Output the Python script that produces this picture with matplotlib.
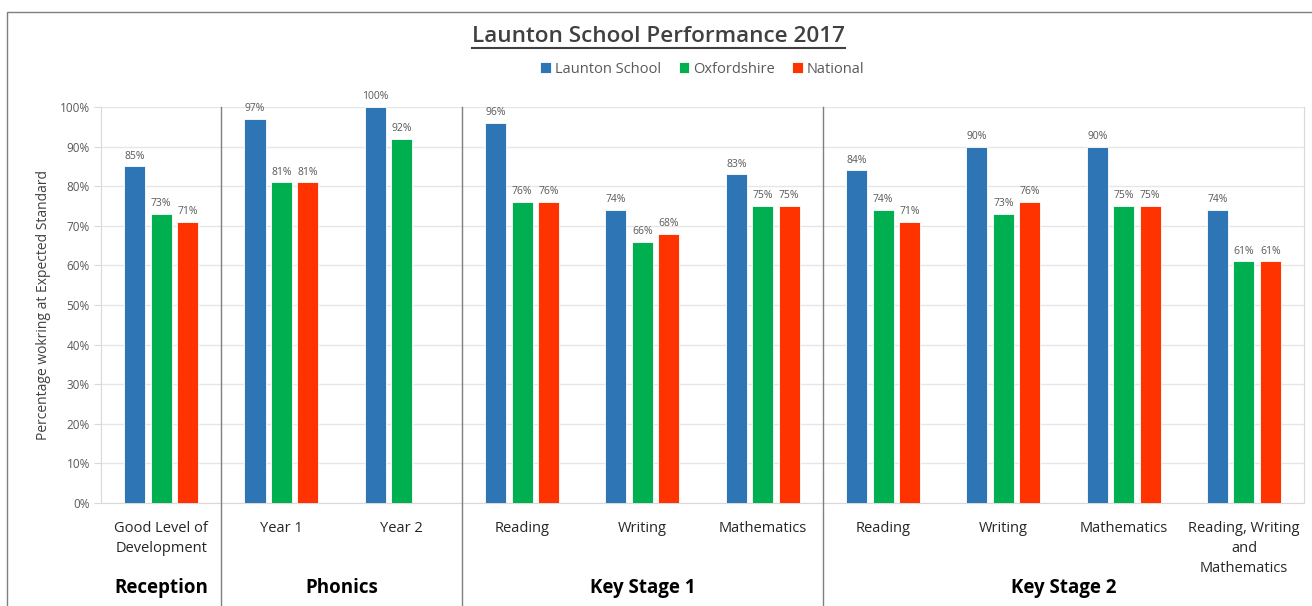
import numpy as np
import matplotlib.pyplot as plt
from matplotlib.lines import Line2D
from matplotlib.patches import Rectangle

categorias = ["Good Level of\nDevelopment", "Year 1", "Year 2", "Reading", "Writing",
              "Mathematics", "Reading", "Writing", "Mathematics",
              "Reading, Writing\nand\nMathematics"]
launton = [85, 97, 100, 96, 74, 83, 84, 90, 90, 74]
oxfordshire = [73, 81, 92, 76, 66, 75, 74, 73, 75, 61]
nacional = [71, 81, None, 76, 68, 75, 71, 76, 75, 61]
series = ["Launton School", "Oxfordshire", "National"]
colores = ["#2E75B6", "#00B050", "#FF3300"]
grupos = ["Reception", "Phonics", "Key Stage 1", "Key Stage 2"]
grupo_inicio = [0, 1, 3, 6]
grupo_fin = [0, 2, 5, 9]

plt.rcParams['font.family'] = ['Open Sans', 'DejaVu Sans']

fig = plt.figure(figsize=(13.12, 6.06), dpi=100)
ax = fig.add_axes([0.077, 0.170, 0.917, 0.6534])

x = np.arange(len(categorias))
ancho = 0.175
paso = 0.22
datos = [launton, oxfordshire, nacional]
for j, (vals, col, nom) in enumerate(zip(datos, colores, series)):
    xs = [x[i] + (j - 1) * paso for i in range(len(vals)) if vals[i] is not None]
    ys = [v for v in vals if v is not None]
    ax.bar(xs, ys, width=ancho, color=col, edgecolor="white", linewidth=0.6,
           label=nom, zorder=3)
    for xi, yi in zip(xs, ys):
        ax.text(xi, yi + 1.2, "{}%".format(yi), ha="center", va="bottom",
                fontsize=7.5, color="#595959")

ax.set_xlim(-0.5, 9.5)
ax.set_ylim(0, 100)
ax.set_yticks(np.arange(0, 101, 10))
ax.set_yticklabels(["{}%".format(v) for v in range(0, 101, 10)], fontsize=8.5, color="#595959")
ax.set_xticks(x)
ax.set_xticklabels(categorias, fontsize=10.5, color="#262626", linespacing=1.45)
ax.tick_params(axis="x", length=0, pad=13)
ax.tick_params(axis="y", length=5, color="#D9D9D9", pad=3)
ax.grid(axis="y", color="#E6E6E6", linewidth=1, zorder=0)
ax.spines["top"].set_visible(False)
for s in ["left", "bottom", "right"]:
    ax.spines[s].set_color("#D9D9D9")

ax.set_ylabel("Percentage wokring at Expected Standard", fontsize=10, color="#404040", labelpad=6)

# separadores de grupos
for sep in [0.5, 2.5, 5.5]:
    ax.plot([sep, sep], [1.0, -0.3], transform=ax.get_xaxis_transform(),
            color="#7F7F7F", linewidth=1, clip_on=False, zorder=4)

# nombres de grupos
for nom, a, b in zip(grupos, grupo_inicio, grupo_fin):
    xc = (a + b) / 2
    ax.text(xc, -0.215, nom, transform=ax.get_xaxis_transform(), fontsize=13.5,
            fontweight="bold", ha="center", va="center", color="black")

ax.legend(loc="center", bbox_to_anchor=(0.5, 1.096), ncol=3, frameon=False,
          fontsize=10.5, handlelength=0.7, handleheight=0.7, columnspacing=1.2,
          handletextpad=0.3, labelcolor="#595959")

titulo = fig.text(0.502, 0.940, "Launton School Performance 2017", ha="center", va="center",
                  fontsize=16.2, color="#404040", fontweight="semibold")

fig.canvas.draw()
bb = titulo.get_window_extent().transformed(fig.transFigure.inverted())
fig.add_artist(Line2D([bb.x0, bb.x1], [bb.y0 - 0.002, bb.y0 - 0.002], color="#404040",
                      linewidth=1.5, transform=fig.transFigure))

fig.add_artist(Rectangle((7 / 1312, -0.1), 1.2, 1.1 - 12 / 606, transform=fig.transFigure,
                         fill=False, edgecolor="#7F7F7F", linewidth=1))

fig.savefig("out.png", dpi=100)
